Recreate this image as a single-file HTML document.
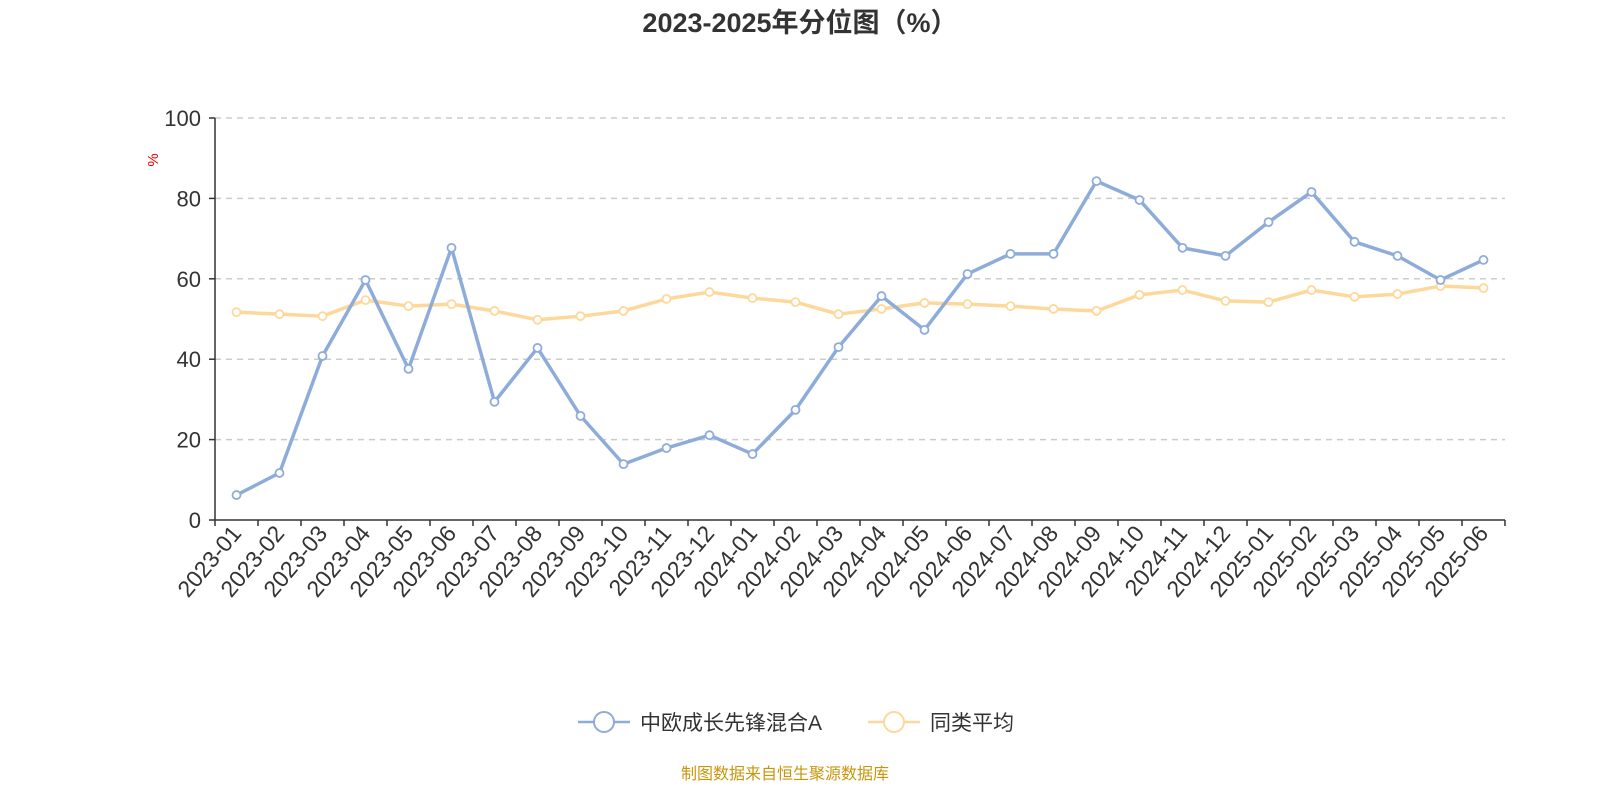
<!DOCTYPE html>
<html><head><meta charset="utf-8"><style>
body{margin:0;background:#fff;width:1600px;height:800px;overflow:hidden;font-family:"Liberation Sans","Noto Sans CJK SC",sans-serif}
</style></head><body>
<svg id="chart" width="1600" height="800" xmlns="http://www.w3.org/2000/svg" font-family="Liberation Sans, Noto Sans CJK SC, sans-serif">
<text x="800" y="32" text-anchor="middle" font-size="27" font-weight="bold" fill="#333">2023-2025年分位图（%）</text>
<text x="158" y="160" font-size="15" fill="#e00" transform="rotate(-90 158 160)" text-anchor="middle">%</text>
<g id="grid"></g><g id="xaxis"></g><g id="series"></g>
<g>
<g>
<line x1="578" y1="722" x2="630" y2="722" stroke="#8eacda" stroke-width="2.5"/><circle cx="604" cy="722" r="10" fill="#fff" stroke="#8eacda" stroke-width="2"/>
<text x="640" y="730" font-size="21" fill="#333">中欧成长先锋混合A</text></g>
<g>
<line x1="868" y1="722" x2="920" y2="722" stroke="#fdd89a" stroke-width="2.5"/><circle cx="894" cy="722" r="10" fill="#fff" stroke="#fdd89a" stroke-width="2"/>
<text x="930" y="730" font-size="21" fill="#333">同类平均</text></g>
</g>
<text x="785" y="779" text-anchor="middle" font-size="16" fill="#c8960c">制图数据来自恒生聚源数据库</text>
</svg>
<script>
const categories=["2023-01","2023-02","2023-03","2023-04","2023-05","2023-06","2023-07","2023-08","2023-09","2023-10","2023-11","2023-12","2024-01","2024-02","2024-03","2024-04","2024-05","2024-06","2024-07","2024-08","2024-09","2024-10","2024-11","2024-12","2025-01","2025-02","2025-03","2025-04","2025-05","2025-06"];
const fundValues=[6.2,11.7,40.8,59.7,37.6,67.7,29.4,42.8,25.9,13.9,17.9,21.1,16.4,27.4,43,55.7,47.3,61.2,66.2,66.2,84.3,79.6,67.7,65.7,74.1,81.6,69.2,65.7,59.7,64.7];
const avgValues=[51.7,51.2,50.7,54.7,53.2,53.7,52,49.8,50.7,52,55,56.7,55.2,54.2,51.2,52.5,54,53.7,53.2,52.5,52,56,57.2,54.5,54.2,57.2,55.5,56.2,58.2,57.7];
const yTicks=[0,20,40,60,80,100];
const NS="http://www.w3.org/2000/svg";
const X0=215,X1=1505,Y0=520,Y1=118;
const bw=(X1-X0)/categories.length;
const xs=i=>X0+bw*(i+0.5);
const ys=v=>Y0-(v/100)*(Y0-Y1);
function mk(tag,attrs,parent){const e=document.createElementNS(NS,tag);for(const k in attrs)e.setAttribute(k,attrs[k]);parent.appendChild(e);return e;}
const grid=document.getElementById('grid');
yTicks.forEach(t=>{
 const y=ys(t);
 if(t>0){const l=mk('line',{x1:X0,x2:X1,y1:y,y2:y,stroke:'#ccc','stroke-width':1.5,'stroke-dasharray':'6,5'},grid);
 
 }
 const tk=mk('line',{x1:X0-6,x2:X0,y1:y,y2:y,stroke:'#333','stroke-width':1.5},grid);
 
 
 const tx=mk('text',{x:X0-14,y:y+8,'text-anchor':'end','font-size':22,fill:'#333'},grid);
 tx.textContent=t;
 
 
});
const ya=mk('line',{x1:X0,x2:X0,y1:Y1,y2:Y0,stroke:'#333','stroke-width':1.5},grid);


const xa=document.getElementById('xaxis');
const xl=mk('line',{x1:X0,x2:X1,y1:Y0,y2:Y0,stroke:'#333','stroke-width':1.5},xa);


for(let i=0;i<=categories.length;i++){
 const x=X0+bw*i;
 const t=mk('line',{x1:x,x2:x,y1:Y0,y2:Y0+6,stroke:'#333','stroke-width':1.5},xa);
 
 
}
categories.forEach((c,i)=>{
 const x=xs(i)+6,y=Y0+14;
 const t=mk('text',{x:x,y:y,'text-anchor':'end','font-size':23,fill:'#333',transform:`rotate(-50 ${x} ${y})`},xa);
 t.textContent=c;
 
 
});
const sg=document.getElementById('series');
function drawSeries(vals,color,name){
 const g=mk('g',{},sg);
 
 
 const p=mk('polyline',{points:vals.map((v,i)=>xs(i)+','+ys(v)).join(' '),fill:'none',stroke:color,'stroke-width':3.5,'stroke-linejoin':'round'},g);
 
 
 vals.forEach((v,i)=>{
  const c=mk('circle',{cx:xs(i),cy:ys(v),r:4,fill:'#fff',stroke:color,'stroke-width':1.8},g);
  
  
 });
}
drawSeries(avgValues,'#fdd89a','average-series');
drawSeries(fundValues,'#8eacda','fund-series');
</script>
</body></html>
